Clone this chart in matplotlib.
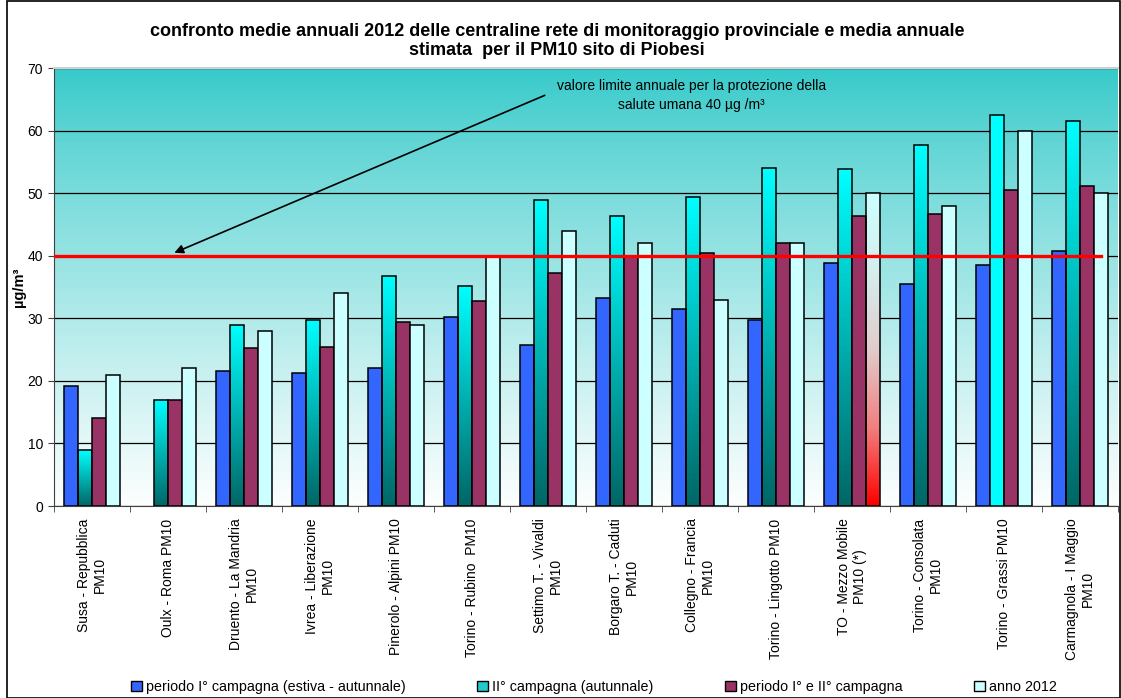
import numpy as np
import matplotlib.pyplot as plt
from matplotlib.patches import Rectangle, Patch
from matplotlib.colors import LinearSegmentedColormap

plt.rcParams['font.family'] = ['Liberation Sans', 'DejaVu Sans']

# dati
stazioni = ["Susa - Repubblica\nPM10", "Oulx - Roma PM10", "Druento - La Mandria\nPM10",
            "Ivrea - Liberazione\nPM10", "Pinerolo - Alpini PM10", "Torino - Rubino  PM10",
            "Settimo T. - Vivaldi\nPM10", "Borgaro T. - Caduti\nPM10", "Collegno - Francia\nPM10",
            "Torino - Lingotto PM10", "TO - Mezzo Mobile\nPM10 (*)", "Torino - Consolata\nPM10",
            "Torino - Grassi PM10", "Carmagnola - I Maggio\nPM10"]
camp1 = [19.2, None, 21.6, 21.3, 22.1, 30.2, 25.7, 33.2, 31.5, 29.8, 38.8, 35.4, 38.5, 40.8]
camp2 = [8.9, 16.9, 29.0, 29.7, 36.8, 35.2, 48.9, 46.4, 49.4, 54.0, 53.9, 57.7, 62.5, 61.5]
camp12 = [14.1, 16.9, 25.3, 25.4, 29.4, 32.7, 37.3, 39.8, 40.5, 42.0, 46.4, 46.6, 50.5, 51.1]
anno2012 = [21, 22, 28, 34, 29, 40, 44, 42, 33, 42, 50, 48, 60, 50]
limite = 40
serie_nomi = ["periodo I° campagna (estiva - autunnale)", "II° campagna (autunnale)",
              "periodo I° e II° campagna", "anno 2012"]

W, H = 1121, 698
fig = plt.figure(figsize=(W / 100, H / 100), dpi=100)
ax = fig.add_axes([54 / W, 1 - 506 / H, 1064 / W, 438 / H])

# sfondo sfumato
t = np.linspace(0, 1, 256) ** 0.85
top = np.array([0.21, 0.79, 0.79])
bg = top[None, :] + (1 - top[None, :]) * t[::-1, None] * 0.99
ax.imshow(bg[:, None, :], extent=[0, 1, 0, 1], transform=ax.transAxes,
          aspect='auto', origin='lower', zorder=0)

cmap_ciano = LinearSegmentedColormap.from_list('ciano', [(0, 0.40, 0.40), (0, 1, 1)])
cmap_rosso = LinearSegmentedColormap.from_list(
    'rosso', [(0, (1, 0, 0)), (0.25, (0.95, 0.5, 0.5)), (0.5, (0.88, 0.8, 0.8)),
              (0.75, (0.84, 0.93, 0.93)), (1, (0.8, 1, 1))])

x = np.arange(len(stazioni))
w = 0.184
grad = np.linspace(0, 1, 200)[:, None]


def barre_sfumate(xs, vals, cmap, solidi=(), colore_solido=None):
    bars = ax.bar(xs, vals, w, facecolor='none', edgecolor='black', lw=1.1, zorder=3)
    for i, b in enumerate(bars):
        if i in solidi:
            b.set_facecolor(colore_solido)
            continue
        bx, bw, bh = b.get_x(), b.get_width(), b.get_height()
        im = ax.imshow(grad, extent=[bx, bx + bw, 0, bh], aspect='auto', origin='lower',
                       cmap=cmap, zorder=2)
        im.set_clip_path(b)
    return bars


v1 = [np.nan if v is None else v for v in camp1]
ax.bar(x - 1.5 * w, v1, w, color='#3366FF', edgecolor='black', lw=1.1, zorder=3)
barre_sfumate(x - 0.5 * w, camp2, cmap_ciano, solidi=(12,), colore_solido='#00FFFF')
ax.bar(x + 0.5 * w, camp12, w, color='#993366', edgecolor='black', lw=1.1, zorder=3)
b4 = ax.bar(x + 1.5 * w, anno2012, w, color='#CCFFFF', edgecolor='black', lw=1.1, zorder=3)
# barra del mezzo mobile con sfumatura rossa
bm = b4[10]
bm.set_facecolor('none')
im = ax.imshow(grad, extent=[bm.get_x(), bm.get_x() + w, 0, bm.get_height()],
               aspect='auto', origin='lower', cmap=cmap_rosso, zorder=2)
im.set_clip_path(bm)

ax.axhline(limite, xmin=0, xmax=0.984, color='#FF0000', lw=2.4, zorder=4)

ax.set_xlim(-0.5, len(stazioni) - 0.5)
ax.set_ylim(0, 70)
ax.set_yticks(range(0, 71, 10))
ax.yaxis.grid(True, color='black', lw=0.9)
ax.set_axisbelow(True)
for s in ['left', 'bottom']:
    ax.spines[s].set_color('#404040')
ax.spines['right'].set_visible(False)
ax.spines['top'].set_color('#d0d0d0')
ax.spines['top'].set_linewidth(1.5)

ax.set_xticks(x)
ax.set_xticklabels(stazioni, rotation=90, fontsize=10, va='top', ha='center',
                   multialignment='center')
ax.tick_params(axis='x', length=0, pad=9)
ax.set_xticks(np.arange(-0.5, len(stazioni)), minor=True)
ax.tick_params(axis='x', which='minor', length=4, color='#404040', direction='out')
ax.tick_params(axis='y', length=4, color='#404040', labelsize=10, pad=4)

ax.set_ylabel('µg/m³', fontsize=10.5, fontweight='bold', labelpad=1)

ax.annotate('', xy=(1.05, limite + 0.3), xytext=(5.99, 65.8),
            arrowprops=dict(arrowstyle='-|>', color='black', lw=1.2, mutation_scale=13),
            zorder=5)
ax.text(0.599, 0.937, 'valore limite annuale per la protezione della\nsalute umana 40 µg /m³',
        transform=ax.transAxes, ha='center', va='center', fontsize=10,
        linespacing=1.5, zorder=5)

fig.text(0.497, 1 - 41 / H,
         'confronto medie annuali 2012 delle centraline rete di monitoraggio provinciale e media annuale\n'
         'stimata  per il PM10 sito di Piobesi',
         ha='center', va='center', fontsize=13, fontweight='bold', linespacing=1.2)

colori_leg = ['#3366FF', '#1FCCCC', '#993366', '#CCFFFF']
handles = [Patch(facecolor=c, edgecolor='black', lw=1) for c in colori_leg]
fig.legend(handles, serie_nomi, loc='center', bbox_to_anchor=(594 / W, 1 - 687 / H),
           ncol=4, frameon=False, fontsize=10.3, handlelength=0.75, handleheight=0.75,
           handletextpad=0.3, columnspacing=5.0)

fig.patches.append(Rectangle((7 / W, 0.5 / H), 1 - 8 / W, 1 - 1.5 / H, transform=fig.transFigure,
                             fill=False, edgecolor='black', lw=1.2))

fig.savefig('out.png', dpi=100)
